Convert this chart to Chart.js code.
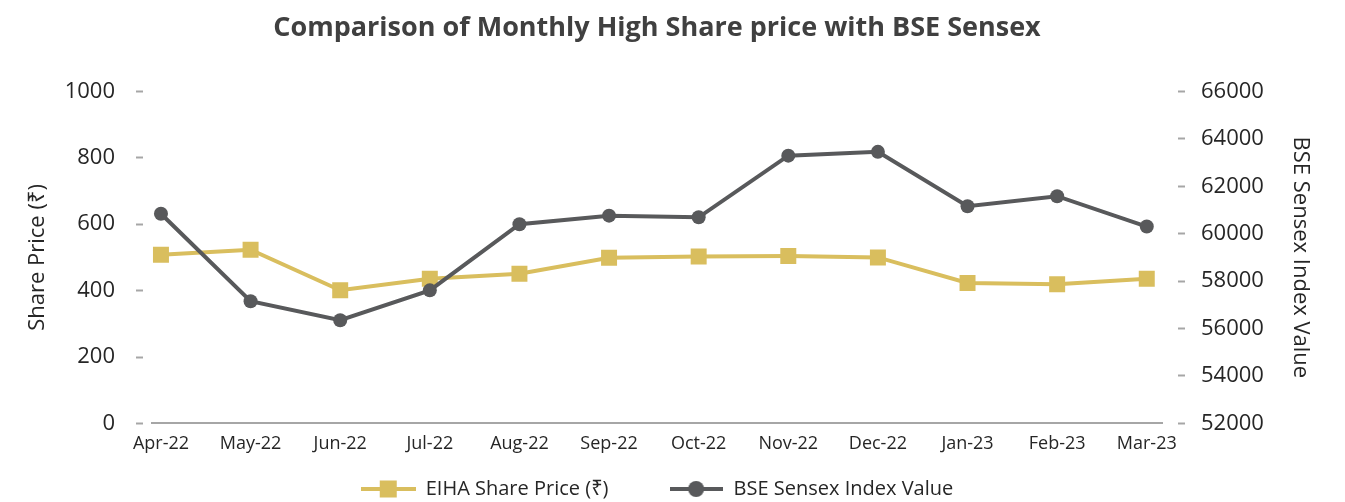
<!DOCTYPE html>
<html><head><meta charset="utf-8">
<script src="https://cdn.jsdelivr.net/npm/chart.js@4"></script>
<style>html,body{margin:0;padding:0;background:#fff}#wrap{width:1345px;height:502px;position:relative}</style>
</head><body><div id="wrap"><canvas id="c"></canvas></div>
<script>
const months = ['Apr-22','May-22','Jun-22','Jul-22','Aug-22','Sep-22','Oct-22','Nov-22','Dec-22','Jan-23','Feb-23','Mar-23'];
const eihaPrice = [508,523,401,436,451,499,503,504,500,423,419,436];
const sensexValue = [60840,57150,56350,57610,60400,60760,60690,63290,63450,61160,61580,60300];
const leftTicks = [0,200,400,600,800,1000];
const rightTicks = [52000,54000,56000,58000,60000,62000,64000,66000];

const GOLD = '#D9BE5E';
const GREY = '#58595B';
const FONT = "'Open Sans', 'Noto Sans', sans-serif";

function legendIcon(kind, color, w) {
  const c = document.createElement('canvas');
  c.width = w; c.height = 18;
  const g = c.getContext('2d');
  g.fillStyle = color;
  g.fillRect(0, 7, w, 4);
  if (kind === 'rect') g.fillRect(w/2 - 8.5, 0.5, 17, 17);
  else { g.beginPath(); g.arc(w/2, 9, 8, 0, Math.PI*2); g.fill(); }
  return c;
}
const legendIcons = [legendIcon('rect', GOLD, 55), legendIcon('circle', GREY, 53)];
const legendTrail = ['           ', ''];

const toXY = arr => arr.map((v, i) => ({x: i, y: v}));

new Chart(document.getElementById('c'), {
  type: 'line',
  data: {
    datasets: [
      {label: 'EIHA Share Price (₹)', data: toXY(eihaPrice), yAxisID: 'y', borderColor: GOLD, backgroundColor: GOLD,
       borderWidth: 4, pointStyle: 'rect', pointRadius: 11.3, pointHoverRadius: 11.3, pointBorderWidth: 0, tension: 0, order: 2},
      {label: 'BSE Sensex Index Value', data: toXY(sensexValue), yAxisID: 'y1', borderColor: GREY, backgroundColor: GREY,
       borderWidth: 4, pointStyle: 'circle', pointRadius: 7, pointHoverRadius: 7, pointBorderWidth: 0, tension: 0, order: 1}
    ]
  },
  options: {
    responsive: true, maintainAspectRatio: false, animation: false,
    layout: {padding: {left: 0, right: 0, top: 6, bottom: -7}},
    plugins: {
      title: {display: true, fullSize: false, text: 'Comparison of Monthly High Share price with BSE Sensex', color: '#404040',
        font: {family: FONT, size: 27, weight: 'bold'}, padding: {top: 6, bottom: 47}},
      legend: {position: 'bottom', fullSize: false,
        title: {display: true, text: '', font: {family: FONT, size: 5}, padding: {top: 5, bottom: 0}},
        labels: {usePointStyle: true, pointStyleWidth: 55, color: '#262626', font: {family: FONT, size: 20}, padding: 3,
          sort: (a, b) => a.datasetIndex - b.datasetIndex,
          generateLabels: (chart) => {
            const items = Chart.defaults.plugins.legend.labels.generateLabels(chart);
            items.forEach(it => { it.pointStyle = legendIcons[it.datasetIndex]; it.text = it.text + legendTrail[it.datasetIndex]; });
            return items;
          }}},
      tooltip: {enabled: false}
    },
    scales: {
      x: {type: 'linear', min: -0.1, max: 11.17,
        grid: {display: false, drawTicks: false},
        border: {display: true, color: '#A6A6A6', width: 2},
        ticks: {stepSize: 1, includeBounds: false, autoSkip: false, maxRotation: 0, color: '#262626', padding: 10,
          font: {family: FONT, size: 18}, callback: v => months[v] ?? ''}
      },
      y: {position: 'left', min: 0, max: 1000,
        afterBuildTicks: s => { s.ticks = leftTicks.map(v => ({value: v})); },
        afterFit: s => { s.width = 152; },
        grid: {drawOnChartArea: false, drawTicks: true, tickLength: 16, tickColor: '#A6A6A6', tickWidth: 2,
          tickBorderDash: [7, 100], tickBorderDashOffset: 0},
        border: {display: false},
        ticks: {color: '#262626', padding: 21, font: {family: FONT, size: 22}, callback: v => String(v)},
        title: {display: true, text: 'Share Price (₹)', color: '#262626', font: {family: FONT, size: 22}, padding: {top: 25, bottom: 10}}
      },
      y1: {position: 'right', min: 52000, max: 66000,
        afterBuildTicks: s => { s.ticks = rightTicks.map(v => ({value: v})); },
        afterFit: s => { s.width = 183; },
        grid: {drawOnChartArea: false, drawTicks: true, tickLength: 23, tickColor: '#A6A6A6', tickWidth: 2,
          tickBorderDash: [7, 100], tickBorderDashOffset: 91},
        border: {display: false},
        ticks: {color: '#262626', padding: 16, font: {family: FONT, size: 22}, callback: v => String(v)},
        title: {display: true, text: 'BSE Sensex Index Value', color: '#262626', font: {family: FONT, size: 22}, padding: {top: 32, bottom: 10}}
      }
    }
  }
});
</script></body></html>
